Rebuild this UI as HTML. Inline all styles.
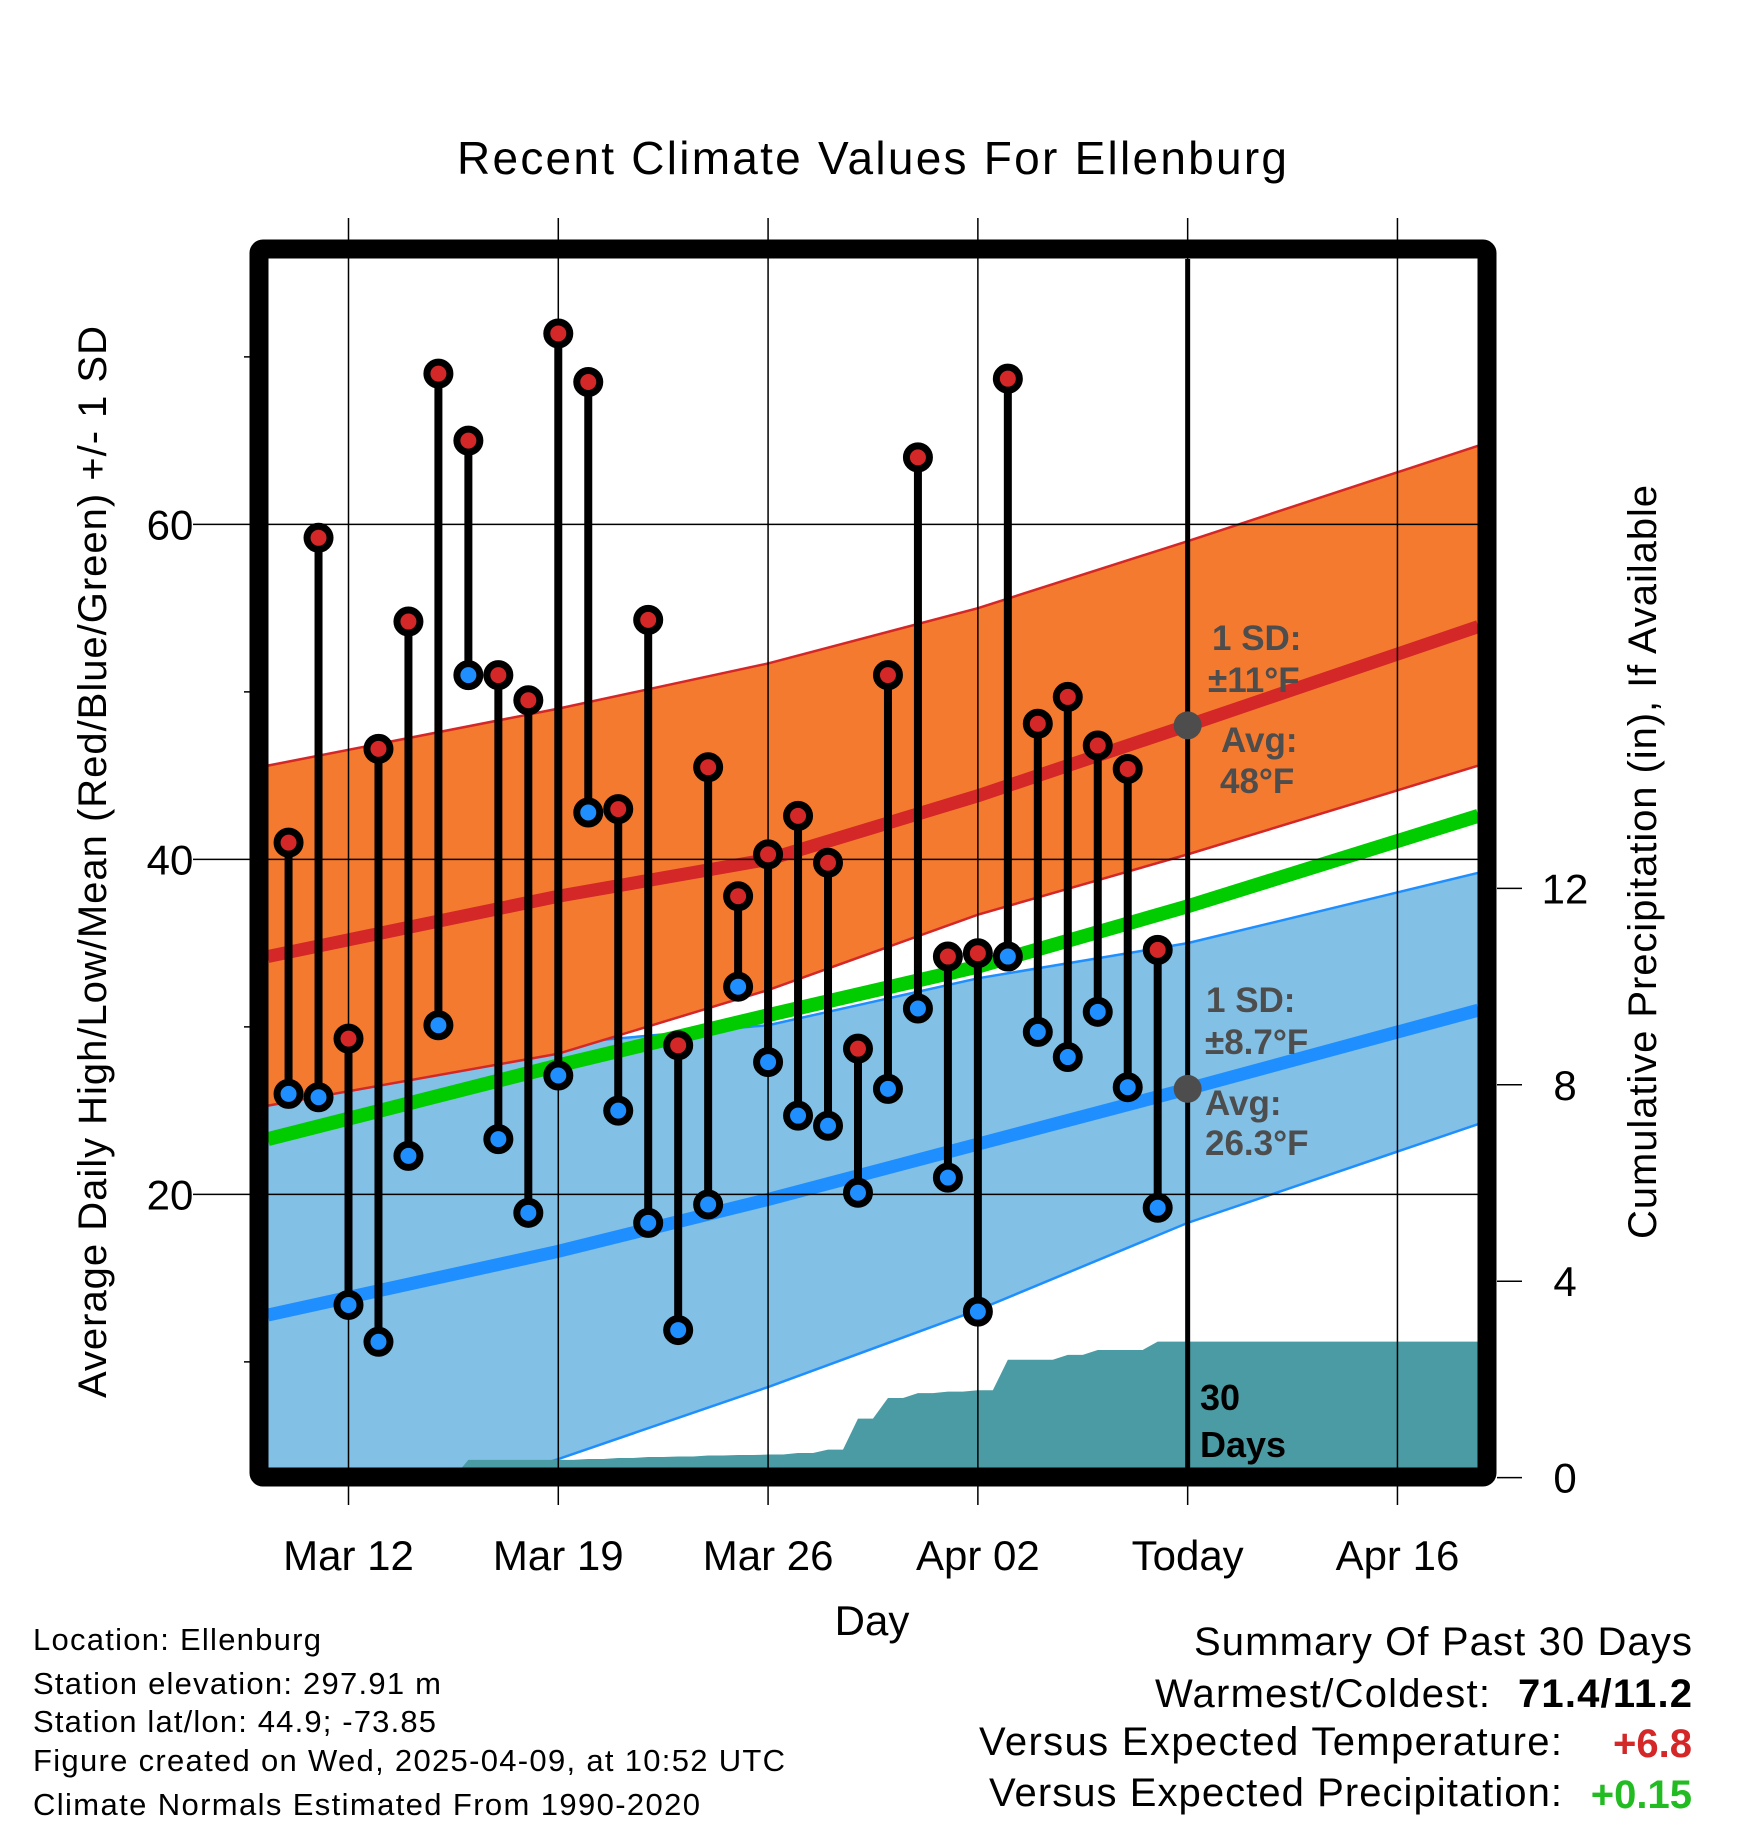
<!DOCTYPE html>
<html><head><meta charset="utf-8"><style>
html,body{margin:0;padding:0;background:#fff;}
svg{display:block;font-family:"Liberation Sans",sans-serif;}
</style></head><body>
<svg id="chart" width="1748" height="1828" viewBox="0 0 1748 1828">
<g id="g"></g>
<text x="872" y="174" text-anchor="middle" font-size="46" textLength="830">Recent Climate Values For Ellenburg</text>
<text transform="translate(106,862) rotate(-90)" text-anchor="middle" font-size="40" textLength="1072">Average Daily High/Low/Mean (Red/Blue/Green) +/- 1 SD</text>
<text transform="translate(1656,862) rotate(-90)" text-anchor="middle" font-size="40" textLength="754">Cumulative Precipitation (in), If Available</text>
<text x="872" y="1635" text-anchor="middle" font-size="42">Day</text>
<g font-size="31">
<text x="33" y="1650" textLength="288">Location: Ellenburg</text>
<text x="33" y="1694" textLength="408">Station elevation: 297.91 m</text>
<text x="33" y="1732" textLength="403">Station lat/lon: 44.9; -73.85</text>
<text x="33" y="1771" textLength="752">Figure created on Wed, 2025-04-09, at 10:52 UTC</text>
<text x="33" y="1815" textLength="667">Climate Normals Estimated From 1990-2020</text>
</g>
<g font-size="40">
<text x="1692" y="1655" text-anchor="end" textLength="498">Summary Of Past 30 Days</text>
<text x="1490" y="1707" text-anchor="end" textLength="335">Warmest/Coldest:</text>
<text x="1692" y="1707" text-anchor="end" font-weight="bold" textLength="174">71.4/11.2</text>
<text x="1562" y="1755" text-anchor="end" textLength="583">Versus Expected Temperature:</text>
<text x="1692" y="1757" text-anchor="end" font-weight="bold" fill="#d42727">+6.8</text>
<text x="1562" y="1806" text-anchor="end" textLength="573">Versus Expected Precipitation:</text>
<text x="1692" y="1808" text-anchor="end" font-weight="bold" fill="#22bb22">+0.15</text>
</g>
</svg>
<script>
const dayLabels = ["Mar 12","Mar 19","Mar 26","Apr 02","Today","Apr 16"];
const dayTicks = [0,7,14,21,28,35];
const obsDays = [-2,-1,0,1,2,3,4,5,6,7,8,9,10,11,12,13,14,15,16,17,18,19,20,21,22,23,24,25,26,27];
const highs = [41,59.2,29.3,46.6,54.2,69,65,51,49.5,71.4,68.5,43,54.3,28.9,45.5,37.8,40.3,42.6,39.8,28.7,51,64,34.2,34.4,68.7,48.1,49.7,46.8,45.4,34.6];
const lows = [26,25.8,13.4,11.2,22.3,30.1,51,23.3,18.9,27.1,42.8,25,18.3,11.9,19.4,32.4,27.9,24.7,24.1,20.1,26.3,31.1,21,13,34.2,29.7,28.2,30.9,26.4,19.2];
const precip = [0,0,0,0,0,0,0.36,0.36,0.36,0.36,0.38,0.4,0.42,0.43,0.45,0.46,0.47,0.5,0.57,1.2,1.62,1.72,1.75,1.78,2.4,2.4,2.5,2.6,2.6,2.77];
const normDays = [-2.69,7,14,21,28,37.7];
const hiMean = [34.2,37.8,40.0,43.8,48.0,53.9];
const hiUpper = [45.6,49.0,51.7,55.0,59.0,64.7];
const hiLower = [25.3,28.4,32.2,36.7,40.3,45.6];
const meanT = [23.3,27.7,30.7,33.6,37.2,42.6];
const loUpper = [26.7,29.0,30.1,32.9,35.0,39.2];
const loMean = [12.8,16.6,19.7,23.0,26.3,31.0];
const loLower = [-1.5,4.2,8.5,13.1,18.3,24.2];
const yTicks = [20,40,60];
const yMinor = [10,30,50,70];
const pTicks = [0,4,8,12];

const NS="http://www.w3.org/2000/svg";
const g=document.getElementById('g');
const X=d=>348.5+29.97*d;
const Y=v=>524.4+(60-v)*16.75;
const P=v=>1477.6-v*49.1;
const L=268,R=1478,T=259,B=1468;
function el(t,a,p){const e=document.createElementNS(NS,t);for(const k in a)e.setAttribute(k,a[k]);(p||g).appendChild(e);return e;}
function txt(s,a){const e=el('text',a);e.textContent=s;return e;}
const clip=el('clipPath',{id:'pc'});el('rect',{x:L,y:T,width:R-L,height:B-T},clip);
const pg=el('g',{'clip-path':'url(#pc)'});
function band(up,lo,fill,name){
  let d='M';normDays.forEach((n,i)=>d+=X(n)+','+Y(up[i])+' L');
  for(let i=normDays.length-1;i>=0;i--)d+=X(normDays[i])+','+Y(lo[i])+(i?' L':' Z');
  const e=el('path',{d:d,fill:fill},pg);
  
  
}
function line(arr,col,w,name){
  const e=el('polyline',{points:normDays.map((n,i)=>X(n)+','+Y(arr[i])).join(' '),fill:'none',stroke:col,'stroke-width':w},pg);
  
  
}
band(loUpper,loLower,'#82c0e6','low-sd-band');
line(loUpper,'#1f8fff',2.5,'low-upper-line');line(loLower,'#1f8fff',2.5,'low-lower-line');
band(hiUpper,hiLower,'#f47a2f','high-sd-band');
line(hiUpper,'#d42727',2.5,'high-upper-line');line(hiLower,'#d42727',2.5,'high-lower-line');
line(hiMean,'#d42727',13,'normal-high-line');
line(meanT,'#00cc00',14,'normal-mean-line');
line(loMean,'#1f8fff',13,'normal-low-line');
let pd='M'+X(obsDays[0]-0.5)+','+P(0);
obsDays.forEach((d,i)=>{pd+=' L'+X(d-0.5)+','+P(i?precip[i-1]:0)+' L'+X(d)+','+P(precip[i]);});
pd+=' L'+R+','+P(precip[precip.length-1])+' L'+R+','+P(0)+' Z';
const pp=el('path',{d:pd,fill:'#4a9ba3'},pg);


yTicks.forEach(v=>{const e=el('line',{x1:L-75,x2:R,y1:Y(v),y2:Y(v),stroke:'#000','stroke-width':1.5});


const t=txt(String(v),{x:170,y:Y(v)+15,'text-anchor':'middle','font-size':42});

});
yMinor.forEach(v=>{el('line',{x1:L-24,x2:L,y1:Y(v),y2:Y(v),stroke:'#000','stroke-width':1.5});});
dayTicks.forEach((d,i)=>{const e=el('line',{x1:X(d),x2:X(d),y1:218,y2:1505,stroke:'#000','stroke-width':1.5});


const t=txt(dayLabels[i],{x:X(d),y:1570,'text-anchor':'middle','font-size':42});

});
pTicks.forEach(v=>{el('line',{x1:1497,x2:1522,y1:P(v),y2:P(v),stroke:'#000','stroke-width':1.5});
const t=txt(String(v),{x:1565,y:P(v)+15,'text-anchor':'middle','font-size':42});

});
el('line',{x1:X(28),x2:X(28),y1:T,y2:B,stroke:'#000','stroke-width':5});
obsDays.forEach((d,i)=>{
  const s=el('line',{x1:X(d),x2:X(d),y1:Y(highs[i]),y2:Y(lows[i]),stroke:'#000','stroke-width':8});
  
  
});
obsDays.forEach((d,i)=>{
  const h=el('circle',{cx:X(d),cy:Y(highs[i]),r:11.5,fill:'#d42727',stroke:'#000','stroke-width':7});
  
  
  const l=el('circle',{cx:X(d),cy:Y(lows[i]),r:11.5,fill:'#1f8fff',stroke:'#000','stroke-width':7});
  
  
});
el('circle',{cx:X(28),cy:Y(48),r:14,fill:'#4d4d4d'});
el('circle',{cx:X(28),cy:Y(26.3),r:14,fill:'#4d4d4d'});
const ann=[["1 SD:",1212,650],["\u00b111\u00b0F",1208,692],["Avg:",1221,752],["48\u00b0F",1220,793],["1 SD:",1206,1012],["\u00b18.7\u00b0F",1205,1054],["Avg:",1205,1115],["26.3\u00b0F",1205,1155]];
ann.forEach(a=>{const t=txt(a[0],{x:a[1],y:a[2],'font-size':35,'font-weight':'bold',fill:'#4d4d4d'});

});
txt("30",{x:1200,y:1410,'font-size':36,'font-weight':'bold'});
txt("Days",{x:1200,y:1457,'font-size':36,'font-weight':'bold'});
const fr=el('rect',{x:259,y:249,width:1228,height:1228,fill:'none',stroke:'#000','stroke-width':19,rx:4});


</script>
</body></html>
